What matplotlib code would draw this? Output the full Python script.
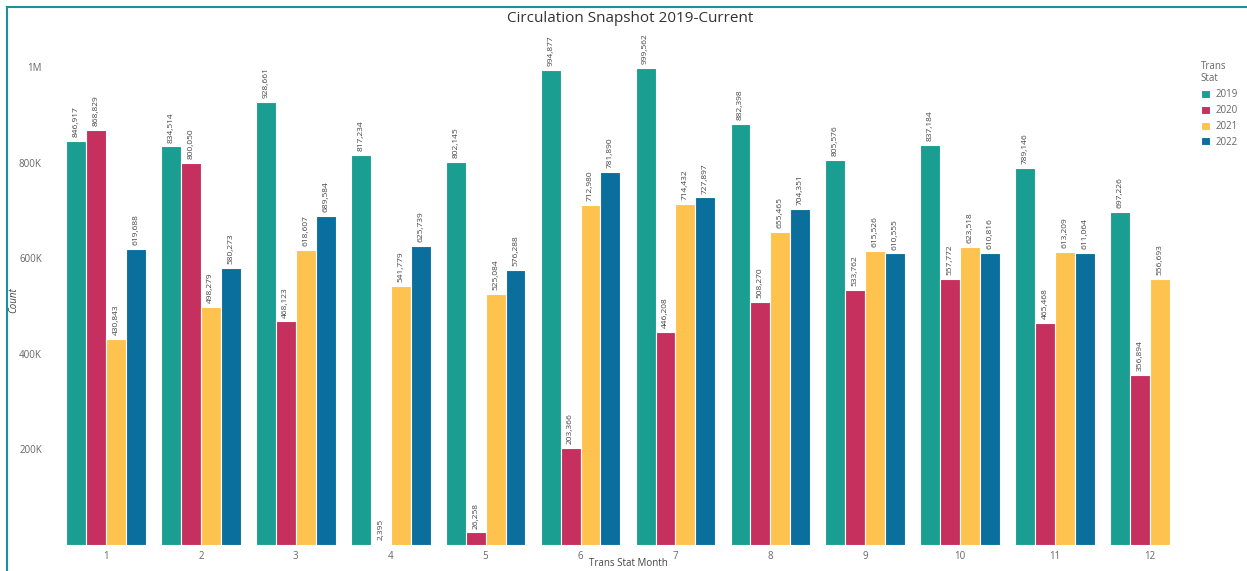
import matplotlib
matplotlib.use('Agg')
import matplotlib.pyplot as plt
import numpy as np

plt.rcParams['font.family'] = ['Open Sans', 'DejaVu Sans']

# Circulation counts per month, by year
months = [1, 2, 3, 4, 5, 6, 7, 8, 9, 10, 11, 12]
years = ['2019', '2020', '2021', '2022']
c2019 = [846917, 834514, 928661, 817234, 802145, 994877, 999562, 882398, 805576, 837184, 789146, 697226]
c2020 = [868829, 800050, 468123, 2395, 26258, 203366, 446208, 508270, 533762, 557772, 465468, 356894]
c2021 = [430843, 498279, 618607, 541779, 525084, 712980, 714432, 655465, 615526, 623518, 613209, 556693]
c2022 = [619688, 580273, 689584, 625739, 576288, 781890, 727897, 704351, 610555, 610816, 611064, None]
colors = ['#1a9e92', '#c5305f', '#fdc34e', '#0b6f9e']

series = [c2019, c2020, c2021, c2022]

W, H = 1247, 571
fig = plt.figure(figsize=(W / 100, H / 100), dpi=100)
ax = fig.add_axes([58.5 / W, 26 / H, (1197.5 - 58.5) / W, (545 - 35) / H])

bw = 0.21
x = np.array(months, dtype=float)
for i, (vals, col, yr) in enumerate(zip(series, colors, years)):
    pos = x + (i - 1.5) * bw
    for j, (p, v) in enumerate(zip(pos, vals)):
        if v is None:
            continue
        ax.bar(p, v, width=bw, color=col, edgecolor='white', linewidth=0.8,
               label=yr if j == 0 else None)
        ax.text(p, v + 8000, f'{v:,}', rotation=90, ha='center', va='bottom',
                fontsize=6, color='#444444')

ax.set_xlim(0.5, 12.5)
ax.set_ylim(0, 1068000)
ax.set_xticks(months)
ax.set_xticklabels([str(m) for m in months], fontsize=7, color='#666666')
ax.set_yticks([200000, 400000, 600000, 800000, 1000000])
ax.set_yticklabels(['200K', '400K', '600K', '800K', '1M'], fontsize=7, color='#666666')
ax.tick_params(length=0, pad=4)
ax.tick_params(axis='y', pad=12)
for s in ax.spines.values():
    s.set_visible(False)

fig.text(628 / W, 1 - 564 / H, 'Trans Stat Month', ha='center', va='center',
         fontsize=7, color='#444444')
fig.text(14 / W, 1 - 300 / H, 'Count', ha='center', va='center', rotation=90,
         fontsize=7, color='#444444', fontstyle='italic')

fig.text(0.505, 1 - 18 / H, 'Circulation Snapshot 2019-Current', ha='center', va='center',
         fontsize=11, color='#333333')

leg = ax.legend(title='Trans\nStat', loc='upper left', bbox_to_anchor=(1192 / W, 1 - 52 / H),
                bbox_transform=fig.transFigure, frameon=False, fontsize=7,
                title_fontsize=7, handlelength=0.9, handleheight=0.9, handletextpad=0.6,
                labelspacing=0.5, alignment='left')
for t in leg.get_texts():
    t.set_color('#666666')
leg.get_title().set_color('#666666')

# outer frame lines (left and top)
fig.add_artist(plt.Line2D([7 / W, 7 / W], [0, 1 - 7 / H], transform=fig.transFigure,
                          color='#1a8fa0', linewidth=1.5))
fig.add_artist(plt.Line2D([7 / W, 1], [1 - 7 / H, 1 - 7 / H], transform=fig.transFigure,
                          color='#1a8fa0', linewidth=1.5))

plt.savefig('out.png', dpi=100)
plt.close()
